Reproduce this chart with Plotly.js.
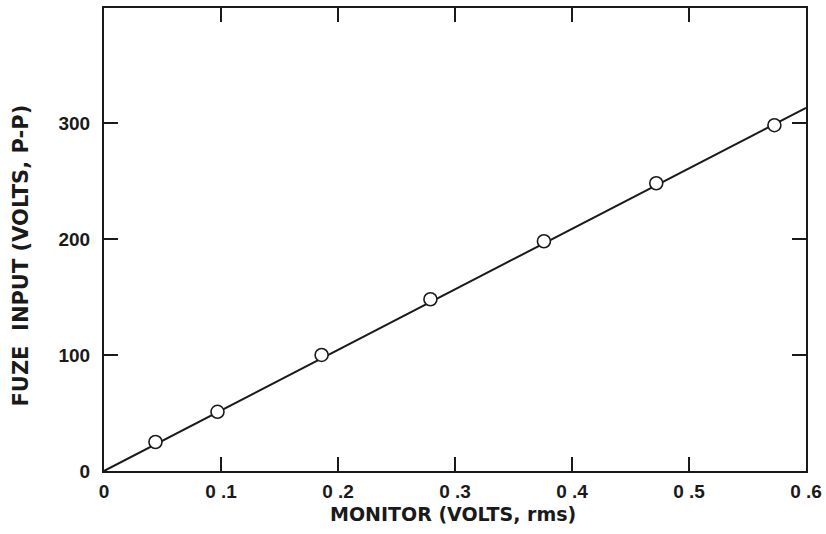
<!DOCTYPE html>
<html>
<head>
<meta charset="utf-8">
<script src="https://cdn.plot.ly/plotly-3.0.1.min.js"></script>
<style>
html,body{margin:0;padding:0;background:#fff;}
#chart{width:826px;height:534px;}
</style>
</head>
<body>
<div id="chart"></div>
<script>
// Measured points
const monitorVolts = [0.044, 0.097, 0.186, 0.279, 0.376, 0.472, 0.573];
const fuzeInput    = [25, 51, 100, 148, 198, 248, 298];
// Fitted straight line (endpoints)
const lineX = [0, 0.6];
const lineY = [0, 313];
// Tick labels
const xTickVals = [0, 0.1, 0.2, 0.3, 0.4, 0.5, 0.6];
const xTickText = ["0", "0 .1", "0 .2", "0 .3", "0 .4", "0 .5", "0 .6"];
const yTickVals = [0, 100, 200, 300];
const yTickText = ["0", "100", "200", "300"];

const ink = '#1a1a1a';
const tickFam = 'Liberation Sans, Arial, Helvetica, sans-serif';
const titleFam = 'DejaVu Sans, Liberation Sans, sans-serif';

const traces = [
  {x: lineX, y: lineY, mode: 'lines', line: {color: ink, width: 2}, hoverinfo: 'skip', showlegend: false},
  {x: monitorVolts, y: fuzeInput, mode: 'markers',
   marker: {symbol: 'circle', size: 13, color: '#ffffff', line: {color: ink, width: 1.6}},
   showlegend: false}
];

const axisCommon = {
  showgrid: false, zeroline: false, showline: true, linecolor: ink, linewidth: 2,
  ticks: 'inside', ticklen: 14, tickwidth: 1.6, tickcolor: ink, mirror: 'ticks',
  tickmode: 'array', fixedrange: true
};

const layout = {
  width: 826, height: 534,
  paper_bgcolor: '#fff', plot_bgcolor: '#fff',
  margin: {l: 104, r: 20, t: 8, b: 63},
  showlegend: false,
  xaxis: Object.assign({}, axisCommon, {
    range: [0, 0.6], tickvals: xTickVals, ticktext: xTickText,
    tickfont: {family: tickFam, size: 19, color: ink, weight: 'bold'},
    ticklabelstandoff: 2
  }),
  yaxis: Object.assign({}, axisCommon, {
    range: [0, 399], tickvals: yTickVals, ticktext: yTickText,
    tickfont: {family: tickFam, size: 19, color: ink, weight: 'bold'},
    ticklabelstandoff: 8
  }),
  annotations: [
    {text: 'MONITOR (VOLTS, rms)', xref: 'paper', yref: 'paper', x: 0.5, y: 0,
     xanchor: 'center', yanchor: 'middle', xshift: -2, yshift: -43, showarrow: false,
     font: {family: titleFam, size: 19, color: ink, weight: 'bold'}},
    {text: 'FUZE&nbsp;&nbsp;INPUT (VOLTS, P-P)', xref: 'paper', yref: 'paper', x: 0, y: 0.5,
     xanchor: 'center', yanchor: 'middle', xshift: -84, yshift: -16, textangle: -90, showarrow: false,
     font: {family: titleFam, size: 21, color: ink, weight: 'bold'}}
  ]
};

Plotly.newPlot('chart', traces, layout, {staticPlot: true, displayModeBar: false});
</script>
</body>
</html>
